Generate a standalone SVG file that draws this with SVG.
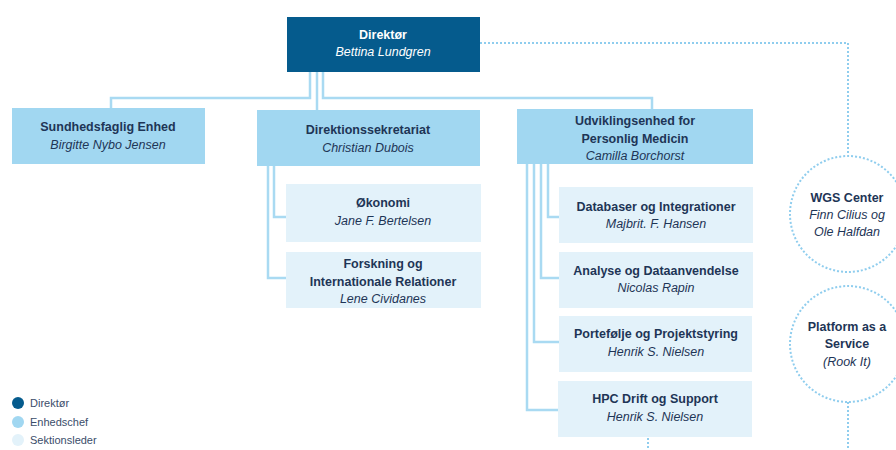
<svg xmlns="http://www.w3.org/2000/svg" width="896" height="450" viewBox="0 0 896 450">
<style>
.dir{fill:#055B8D}
.enh{fill:#A1D7F1}
.sek{fill:#E3F2FA}
.t{font-family:"Liberation Sans",Arial,sans-serif;font-size:12.5px;text-anchor:middle;fill:#1E3556}
.b{font-weight:bold}
.i{font-style:italic}
.w{fill:#FFFFFF}
.ln{fill:none;stroke:#A9DAF2;stroke-width:2.5}
.dt{fill:none;stroke:#8FCDEE;stroke-width:2;stroke-dasharray:2 2}
.lg{font-family:"Liberation Sans",Arial,sans-serif;font-size:11px;fill:#3A4D6A}
</style>
<rect width="896" height="450" fill="#FFFFFF"/>
<g id="connectors">
<polyline class="ln" points="310,72 310,98 111,98 111,108"/>
<polyline class="ln" points="317,72 317,110"/>
<polyline class="ln" points="323,72 323,98 652,98 652,109"/>
<polyline class="ln" points="274,166 274,217 286,217"/>
<polyline class="ln" points="268,166 268,278 286,278"/>
<polyline class="ln" points="548,164 548,217 559,217"/>
<polyline class="ln" points="541,164 541,278 559,278"/>
<polyline class="ln" points="534,164 534,342 559,342"/>
<polyline class="ln" points="527,164 527,410 559,410"/>
<polyline class="dt" points="480,43 848,43 848,155"/>
<line class="dt" x1="848" y1="402" x2="848" y2="450"/>
<line class="dt" x1="648" y1="438" x2="648" y2="450"/>
</g>
<g id="direktor">
<rect class="dir" x="287" y="17" width="193" height="55"/>
<text class="t b w" x="383" y="39">Direktør</text>
<text class="t i w" x="383" y="56">Bettina Lundgren</text>
</g>
<g id="sundhedsfaglig">
<rect class="enh" x="12" y="108" width="193" height="56"/>
<text class="t b" x="108" y="131">Sundhedsfaglig Enhed</text>
<text class="t i" x="108" y="149">Birgitte Nybo Jensen</text>
</g>
<g id="direktionssekretariat">
<rect class="enh" x="257" y="110" width="223" height="56"/>
<text class="t b" x="368" y="134">Direktionssekretariat</text>
<text class="t i" x="368" y="152">Christian Dubois</text>
</g>
<g id="udviklingsenhed">
<rect class="enh" x="517" y="109" width="236" height="55"/>
<text class="t b" x="635" y="125">Udviklingsenhed for</text>
<text class="t b" x="635" y="143">Personlig Medicin</text>
<text class="t i" x="635" y="160">Camilla Borchorst</text>
</g>
<g id="okonomi">
<rect class="sek" x="286" y="184" width="195" height="58"/>
<text class="t b" x="383" y="207">Økonomi</text>
<text class="t i" x="383" y="225">Jane F. Bertelsen</text>
</g>
<g id="forskning">
<rect class="sek" x="286" y="252" width="195" height="56"/>
<text class="t b" x="383" y="268">Forskning og</text>
<text class="t b" x="383" y="286">Internationale Relationer</text>
<text class="t i" x="383" y="303">Lene Cividanes</text>
</g>
<g id="databaser">
<rect class="sek" x="559" y="187" width="194" height="56"/>
<text class="t b" x="656" y="211">Databaser og Integrationer</text>
<text class="t i" x="656" y="228">Majbrit. F. Hansen</text>
</g>
<g id="analyse">
<rect class="sek" x="559" y="252" width="194" height="56"/>
<text class="t b" x="656" y="275">Analyse og Dataanvendelse</text>
<text class="t i" x="656" y="292">Nicolas Rapin</text>
</g>
<g id="portefolje">
<rect class="sek" x="559" y="316" width="193" height="56"/>
<text class="t b" x="656" y="338">Portefølje og Projektstyring</text>
<text class="t i" x="656" y="356">Henrik S. Nielsen</text>
</g>
<g id="hpc">
<rect class="sek" x="558" y="381" width="194" height="56"/>
<text class="t b" x="655" y="403">HPC Drift og Support</text>
<text class="t i" x="655" y="421">Henrik S. Nielsen</text>
</g>
<g id="wgs">
<circle class="dt" cx="848" cy="214" r="58" fill="#FFFFFF"/>
<text class="t b" x="847" y="202">WGS Center</text>
<text class="t i" x="847" y="219">Finn Cilius og</text>
<text class="t i" x="847" y="236">Ole Halfdan</text>
</g>
<g id="platform">
<circle class="dt" cx="848" cy="344" r="58" fill="#FFFFFF"/>
<text class="t b" x="847" y="331">Platform as a</text>
<text class="t b" x="847" y="348">Service</text>
<text class="t i" x="847" y="366">(Rook It)</text>
</g>
<g id="legend">
<circle cx="18" cy="403" r="6" class="dir"/>
<circle cx="18" cy="422" r="6" class="enh"/>
<circle cx="18" cy="440" r="6" class="sek"/>
<text class="lg" x="30" y="407">Direktør</text>
<text class="lg" x="30" y="426">Enhedschef</text>
<text class="lg" x="30" y="444">Sektionsleder</text>
</g>
</svg>
